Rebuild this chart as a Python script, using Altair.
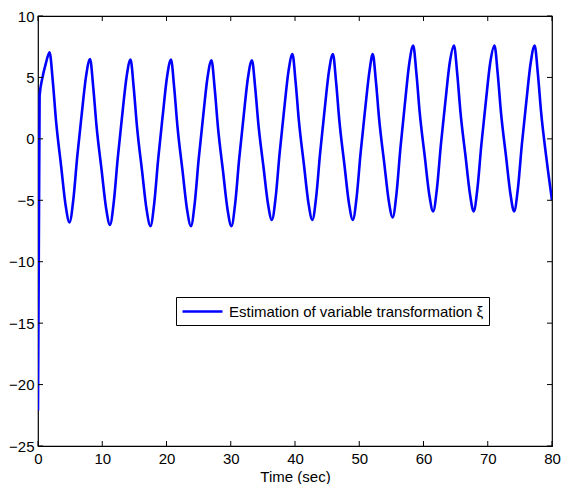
import altair as alt
import pandas as pd

# Time samples (sec)
time_s = [
    0.0, 0.25, 0.7, 1.2, 1.8,
    2.3, 2.8, 3.6, 4.3, 4.9, 5.5, 6.1, 6.8, 7.5, 8.1,
    8.6, 9.1, 9.9, 10.6, 11.2, 11.8, 12.4, 13.1, 13.8, 14.4,
    14.9, 15.4, 16.2, 16.9, 17.5, 18.1, 18.7, 19.4, 20.1, 20.7,
    21.2, 21.7, 22.5, 23.2, 23.8, 24.4, 25.0, 25.7, 26.4, 27.0,
    27.5, 28.0, 28.8, 29.5, 30.1, 30.7, 31.3, 32.0, 32.7, 33.3,
    33.8, 34.3, 35.1, 35.8, 36.4, 37.0, 37.6, 38.3, 39.0, 39.6,
    40.1, 40.6, 41.4, 42.1, 42.7, 43.3, 43.9, 44.6, 45.3, 45.9,
    46.4, 46.9, 47.7, 48.4, 49.0, 49.6, 50.2, 50.9, 51.6, 52.1,
    52.6, 53.1, 53.9, 54.6, 55.2, 55.8, 56.4, 57.1, 57.8, 58.4,
    58.9, 59.4, 60.2, 60.9, 61.5, 62.1, 62.7, 63.4, 64.1, 64.75,
    65.25, 65.75, 66.55, 67.25, 67.8, 68.4, 69.0, 69.7, 70.4, 71.05,
    71.55, 72.05, 72.85, 73.55, 74.1, 74.7, 75.3, 76.0, 76.7, 77.3,
    77.8, 78.3, 79.1, 80.0,
]

# Estimated xi values
xi_values = [
    -22.1, 3.5, 5.0, 6.1, 7.05,
    4.70, 1.51, -2.23, -5.42, -6.8, -4.94, -1.48, 1.98, 5.17, 6.5,
    4.20, 1.10, -2.55, -5.65, -7.0, -5.12, -1.62, 1.88, 5.10, 6.45,
    4.15, 1.03, -2.63, -5.75, -7.1, -5.20, -1.68, 1.84, 5.10, 6.45,
    4.15, 1.03, -2.63, -5.75, -7.1, -5.21, -1.70, 1.81, 5.05, 6.4,
    4.10, 1.00, -2.65, -5.75, -7.1, -5.21, -1.70, 1.81, 5.05, 6.4,
    4.19, 1.20, -2.31, -5.30, -6.6, -4.71, -1.20, 2.31, 5.55, 6.9,
    4.60, 1.50, -2.15, -5.25, -6.6, -4.71, -1.20, 2.31, 5.55, 6.9,
    4.60, 1.50, -2.15, -5.25, -6.6, -4.71, -1.20, 2.31, 5.55, 6.9,
    4.64, 1.58, -2.01, -5.07, -6.4, -4.44, -0.80, 2.84, 6.20, 7.6,
    5.30, 2.20, -1.45, -4.55, -5.9, -4.01, -0.50, 3.01, 6.25, 7.6,
    5.30, 2.20, -1.45, -4.55, -5.9, -4.01, -0.50, 3.01, 6.25, 7.6,
    5.30, 2.20, -1.45, -4.55, -5.9, -4.01, -0.50, 3.01, 6.25, 7.6,
    5.30, 2.20, -1.45, -5.0,
]

series_name = "Estimation of variable transformation ξ"
x_ticks = [0, 10, 20, 30, 40, 50, 60, 70, 80]
y_ticks = [-25, -20, -15, -10, -5, 0, 5, 10]

W, H = 514, 430
FONT = "Liberation Sans"
FS = 15

df = pd.DataFrame({"t": time_s, "xi": xi_values, "series": series_name})
xt = pd.DataFrame({"v": x_ticks})
yt = pd.DataFrame({"v": y_ticks})

xscale = alt.Scale(domain=[0, 80], nice=False, zero=False)
yscale = alt.Scale(domain=[-25, 10], nice=False, zero=False)

line = alt.Chart(df).mark_line(strokeWidth=2.6, interpolate="monotone", clip=True).encode(
    x=alt.X("t:Q", scale=xscale,
            axis=alt.Axis(title="Time (sec)", values=x_ticks, ticks=False, domain=False,
                          grid=False, labelPadding=5, labelFontSize=FS, labelFont=FONT,
                          labelColor="black", labelFlush=False,
                          titleFont=FONT, titleFontSize=FS,
                          titleFontWeight="normal", titleColor="black", titlePadding=3)),
    y=alt.Y("xi:Q", scale=yscale,
            axis=alt.Axis(title=None, values=y_ticks, ticks=False, domain=False,
                          grid=False, labelPadding=4, labelFontSize=FS, labelFont=FONT,
                          labelColor="black", labelFlush=False)),
    color=alt.Color("series:N", scale=alt.Scale(range=["#0000ff"]),
                    legend=alt.Legend(title=None, orient="none", legendX=138, legendY=281,
                                      strokeColor="black", fillColor="white", padding=5,
                                      symbolType="M-1,0H4", symbolSize=256,
                                      symbolStrokeWidth=2.6, labelFontSize=FS,
                                      labelFont=FONT, labelColor="black", labelOffset=29,
                                      labelLimit=0, cornerRadius=0)),
)

tick_len = 5
xt_bottom = alt.Chart(xt).mark_rule(color="black", strokeWidth=1).encode(
    x=alt.X("v:Q", scale=xscale), y=alt.value(H), y2=alt.value(H - tick_len))
xt_top = alt.Chart(xt).mark_rule(color="black", strokeWidth=1).encode(
    x=alt.X("v:Q", scale=xscale), y=alt.value(0), y2=alt.value(tick_len))
yt_left = alt.Chart(yt).mark_rule(color="black", strokeWidth=1).encode(
    y=alt.Y("v:Q", scale=yscale), x=alt.value(0), x2=alt.value(tick_len))
yt_right = alt.Chart(yt).mark_rule(color="black", strokeWidth=1).encode(
    y=alt.Y("v:Q", scale=yscale), x=alt.value(W), x2=alt.value(W - tick_len))

chart = alt.layer(line, xt_bottom, xt_top, yt_left, yt_right).properties(
    width=W, height=H,
    autosize=alt.AutoSizeParams(type="none"),
    padding={"left": 30, "top": 8, "right": 9, "bottom": 38},
    background="white",
).configure_view(stroke="black", strokeWidth=1.2)

chart.save("out.html", embed_options={"renderer": "svg", "actions": False})
